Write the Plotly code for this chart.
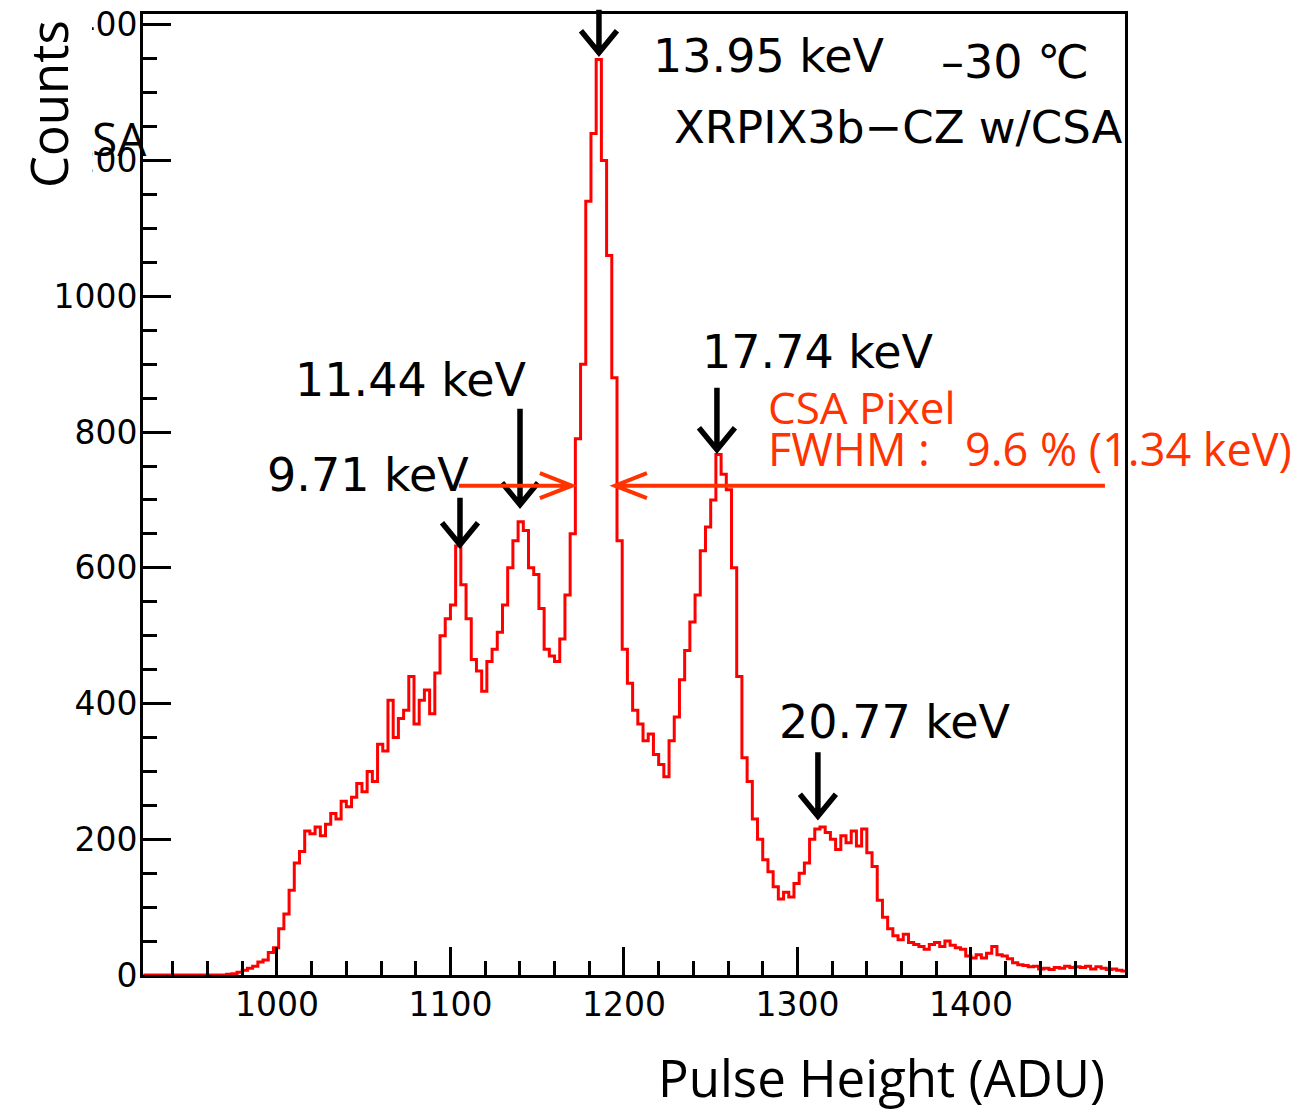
import plotly.graph_objects as go

# ---------------- data ----------------
bin_start = 923.0      # ADU, left edge of first bin
bin_width = 3.0        # ADU
counts = [
    0, 0, 0, 0, 0, 0, 0, 0, 0, 0,                     # 923-953
    0, 0, 0, 0, 0, 0, 1, 2, 4, 7,                     # 953-983
    10, 13, 19, 22, 33, 40, 68, 90, 125, 165,         # 983-1013
    182, 212, 208, 218, 205, 222, 238, 230, 256, 248, # 1013-1043
    262, 282, 270, 300, 285, 340, 330, 405, 350, 378, # 1043-1073
    390, 440, 370, 405, 420, 385, 445, 500, 525, 545, # 1073-1103
    632, 575, 525, 465, 448, 418, 462, 480, 505, 545, # 1103-1133
    600, 640, 668, 655, 600, 590, 540, 480, 470, 462, # 1133-1163
    495, 560, 650, 790, 900, 1140, 1240, 1349, 1200, 1060,  # 1163-1193
    880, 640, 480, 430, 390, 370, 345, 355, 325, 310, # 1193-1223
    292, 345, 380, 435, 478, 520, 560, 625, 660, 700, # 1223-1253
    767, 738, 715, 600, 440, 320, 285, 230, 200, 170, # 1253-1283
    152, 130, 112, 122, 115, 135, 150, 165, 200, 215, # 1283-1313
    218, 210, 200, 185, 205, 195, 212, 190, 215, 180, # 1313-1343
    160, 110, 85, 68, 58, 52, 60, 48, 45, 42,         # 1343-1373
    38, 45, 48, 42, 50, 44, 40, 38, 28, 25,           # 1373-1403
    30, 25, 32, 42, 30, 28, 24, 18, 15, 14,           # 1403-1433
    12, 13, 9, 10, 8, 11, 10, 13, 11, 12,             # 1433-1463
    11, 13, 9, 12, 10, 8, 9, 7, 6,                    # 1463-1490
]

# peak markers: label, arrow tip (ADU, counts)
peak_labels = ["13.95 keV", "9.71 keV", "11.44 keV", "17.74 keV", "20.77 keV"]
peak_adu = [1185.6, 1105.5, 1140.1, 1253.6, 1311.8]
peak_cnt = [1359, 634, 693, 774, 234]

fwhm_level = 721
fwhm_left = 1170.0
fwhm_right = 1194.8

x_ticks = [1000, 1100, 1200, 1300, 1400]
y_ticks = [0, 200, 400, 600, 800, 1000, 1200, 1400]

# ---------------- figure ----------------
X0, X1 = 922.8, 1488.8
Y0, Y1 = 0, 1416
W, H = 1307, 1114
L, R, T, B = 143, 1307 - 1125, 14, 1114 - 975
PW, PH = W - L - R, H - T - B

edges = [bin_start + i * bin_width for i in range(len(counts) + 1)]
xs = edges
ys = counts + [counts[-1]]

RED_TXT = "#ff3300"

fig = go.Figure()
fig.add_trace(go.Scatter(x=xs, y=ys, mode="lines", line_shape="hv",
                         line=dict(color="#ff0000", width=3),
                         hoverinfo="skip", showlegend=False))


def dpx(x):  # data -> paper x
    return (x - X0) / (X1 - X0)


def dpy(y):  # data -> paper y
    return (y - Y0) / (Y1 - Y0)


def ppx(px):  # pixel -> paper x
    return (px - L) / PW


def ppy(py):  # pixel -> paper y
    return (H - B - py) / PH


shapes = []
# black down arrows (shaft length in px)
shaft_len = [43, 47, 96, 62, 64]
for xa, ya, ln in zip(peak_adu, peak_cnt, shaft_len):
    shapes.append(dict(type="path", xref="paper", yref="paper",
                       xsizemode="pixel", ysizemode="pixel",
                       xanchor=dpx(xa), yanchor=dpy(ya),
                       path=f"M0,{ln} L0,0 M-18,22 L0,0 L18,22",
                       line=dict(color="black", width=5.5), layer="above"))

# red FWHM arrows
shapes.append(dict(type="path", xref="paper", yref="paper",
                   xsizemode="pixel", ysizemode="pixel",
                   xanchor=dpx(fwhm_left), yanchor=dpy(fwhm_level),
                   path="M-113,0 L0,0 M-32,12.5 L0,0 L-32,-12.5",
                   line=dict(color=RED_TXT, width=4), layer="above"))
shapes.append(dict(type="path", xref="paper", yref="paper",
                   xsizemode="pixel", ysizemode="pixel",
                   xanchor=dpx(fwhm_right), yanchor=dpy(fwhm_level),
                   path="M490,0 L0,0 M32,12.5 L0,0 L32,-12.5",
                   line=dict(color=RED_TXT, width=4), layer="above"))

# white patch over top-left (as in the original slide)
shapes.append(dict(type="rect", xref="paper", yref="paper",
                   x0=ppx(-5), x1=ppx(92), y0=ppy(200), y1=ppy(-5),
                   fillcolor="white", line=dict(width=0), layer="above"))

fig.update_layout(shapes=shapes)

ann = []
dej = "DejaVu Sans"
label_pos = [(651, 56), (265, 475), (293, 380), (700, 352), (777, 722)]
for txt, (px, py) in zip(peak_labels, label_pos):
    ann.append(dict(text=txt, xref="paper", yref="paper", x=ppx(px), y=ppy(py),
                    xanchor="left", yanchor="middle", showarrow=False,
                    font=dict(family=dej, size=46, color="black")))

ann.append(dict(text="–30 ℃", xref="paper", yref="paper", x=ppx(939), y=ppy(62),
                xanchor="left", yanchor="middle", showarrow=False,
                font=dict(family=dej, size=46, color="black")))
ann.append(dict(text="XRPIX3b−CZ w/CSA", xref="paper", yref="paper", x=ppx(672), y=ppy(128),
                xanchor="left", yanchor="middle", showarrow=False,
                font=dict(family=dej, size=45, color="black")))
ann.append(dict(text="CSA Pixel", xref="paper", yref="paper", x=ppx(766), y=ppy(407),
                xanchor="left", yanchor="middle", showarrow=False,
                font=dict(family="Open Sans", size=44, color=RED_TXT)))
ann.append(dict(text="FWHM :\u00a0\u00a0\u00a09.6 % (1.34 keV)", xref="paper", yref="paper",
                x=ppx(766), y=ppy(448), xanchor="left", yanchor="middle", showarrow=False,
                font=dict(family="Open Sans", size=45, color=RED_TXT)))
ann.append(dict(text="Counts", xref="paper", yref="paper", x=ppx(48), y=ppy(104),
                xanchor="center", yanchor="middle", showarrow=False, textangle=-90,
                font=dict(family="Open Sans", size=51, color="black")))
ann.append(dict(text="SA", xref="paper", yref="paper", x=ppx(90), y=ppy(138),
                xanchor="left", yanchor="middle", showarrow=False,
                font=dict(family="Open Sans", size=46, color="black")))
ann.append(dict(text="Pulse Height (ADU)", xref="paper", yref="paper", x=ppx(881), y=ppy(1114),
                xanchor="center", yanchor="bottom", showarrow=False,
                font=dict(family="Open Sans", size=51, color="black")))
fig.update_layout(annotations=ann)

tickfont = dict(family=dej, size=33, color="black")
fig.update_xaxes(range=[X0, X1], tickvals=x_ticks, ticks="inside", ticklen=28, tickwidth=2.5,
                 tickcolor="black", showline=True, linewidth=3, linecolor="black", mirror=True,
                 showgrid=False, zeroline=False, tickfont=tickfont, ticklabelstandoff=-2,
                 minor=dict(ticks="inside", ticklen=14, tickwidth=2.5, tickcolor="black",
                            dtick=20, tick0=1000, showgrid=False))
fig.update_yaxes(range=[Y0, Y1], tickvals=y_ticks, ticks="inside", ticklen=28, tickwidth=2.5,
                 tickcolor="black", showline=True, linewidth=3, linecolor="black", mirror=True,
                 showgrid=False, zeroline=False, tickfont=tickfont, ticklabelstandoff=-4,
                 minor=dict(ticks="inside", ticklen=14, tickwidth=2.5, tickcolor="black",
                            dtick=50, tick0=0, showgrid=False))

fig.update_layout(width=W, height=H, margin=dict(l=L, r=R, t=T, b=B, autoexpand=False),
                  paper_bgcolor="white", plot_bgcolor="white", showlegend=False)

fig.write_html("out.html")
